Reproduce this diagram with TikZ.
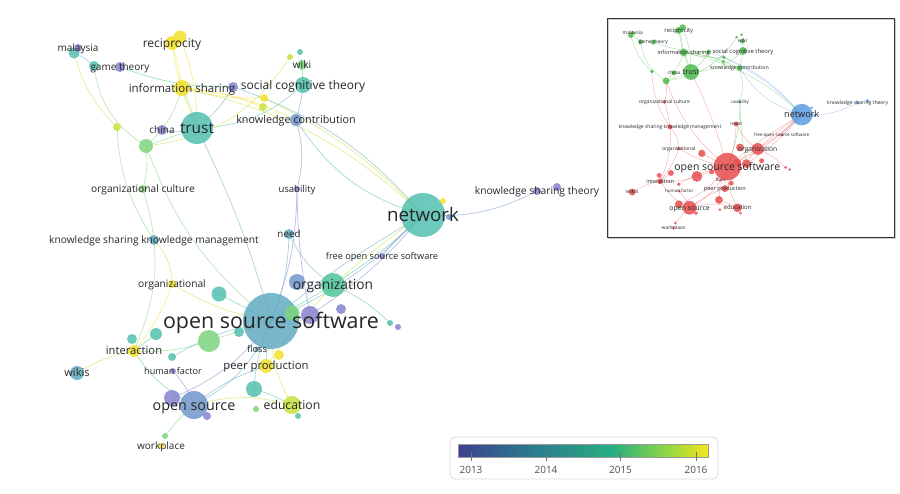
\documentclass[tikz,border=0pt]{standalone}
\usepackage{fontspec}
\setmainfont{Open Sans}
\usetikzlibrary{backgrounds}

% overlay colours, by average publication year
\definecolor{y13}{HTML}{8583CF}
\definecolor{y135}{HTML}{7197CC}
\definecolor{y14}{HTML}{62ABC2}
\definecolor{y145}{HTML}{52BFAF}
\definecolor{y15}{HTML}{4EC69B}
\definecolor{y155}{HTML}{7FD47E}
\definecolor{y158}{HTML}{C9E13C}
\definecolor{y16}{HTML}{F3E12A}
% cluster colours of the small map
\definecolor{clred}{HTML}{E84E50}
\definecolor{clgreen}{HTML}{4DBB4D}
\definecolor{clblue}{HTML}{5A9EE0}
% colour bar
\definecolor{v0}{HTML}{3D4190}
\definecolor{v1}{HTML}{2C7C8E}
\definecolor{v2}{HTML}{27AE80}
\definecolor{v3}{HTML}{93D742}
\definecolor{v4}{HTML}{F5E61E}
\pgfdeclarehorizontalshading{viridisbar}{100bp}{color(0bp)=(v0); color(25bp)=(v0); color(40bp)=(v1); color(56bp)=(v2); color(67bp)=(v3); color(75bp)=(v4); color(100bp)=(v4)}

\tikzset{
  kwdot/.style={circle, inner sep=0pt, minimum size=#1, fill opacity=0.85, draw=none},
  kwlabel/.style={font=\fontsize{#1}{#1}\selectfont, text=black!85, inner sep=0pt,
    text height=0.9*#1pt, text depth=0.2*#1pt},
  link/.style={line width=0.7pt, draw opacity=0.55},
}

\newif\ifclusterview
% keyword: name, x, y, diameter, year colour, cluster colour
\newcommand{\kw}[6]{%
  \ifclusterview\colorlet{kwfill}{#6}\else\colorlet{kwfill}{#5}\fi
  \node[kwdot=#4pt, fill=kwfill] (#1) at (#2,#3) {};}
% link: from, to, year colour, cluster colour, bend
\newcommand{\lk}[5]{%
  \ifclusterview\colorlet{lkcol}{#4}\else\colorlet{lkcol}{#3}\fi
  \draw[link, lkcol] (#1.center) to[bend left=#5] (#2.center);}
% label: keyword, font size, text
\newcommand{\kwlab}[3]{\node[kwlabel=#2] (#1-t) at (#1) {#3};}

\newcommand{\kwnetwork}{%
  % keywords, largest first
  \kw{oss}{271}{321}{56}{y14}{clred}
  \kw{network}{423}{215}{44}{y145}{clblue}
  \kw{trust}{197}{128}{32}{y145}{clgreen}
  \kw{opensrc}{194}{405}{28}{y135}{clred}
  \kw{organization}{333}{285}{24}{y15}{clred}
  \kw{g210}{209}{341}{22}{y155}{clred}
  \kw{edu}{292}{405}{18}{y158}{clred}
  \kw{g292}{292}{313}{15}{y155}{clred}
  \kw{p313}{310}{315}{18}{y13}{clred}
  \kw{b297}{297}{282}{16}{y135}{clred}
  \kw{p171}{172}{398}{16}{y13}{clred}
  \kw{t254}{254}{389}{16}{y145}{clred}
  \kw{sct}{303}{85}{16}{y145}{clgreen}
  \kw{infosharing}{182}{88}{16}{y16}{clgreen}
  \kw{recipA}{172}{43}{14}{y16}{clgreen}
  \kw{recipB}{180}{37}{13}{y16}{clgreen}
  \kw{peerprod}{266}{366}{14}{y16}{clred}
  \kw{t220}{219}{294}{15}{y145}{clred}
  \kw{g146}{146}{146}{14}{y155}{clgreen}
  \kw{wikis}{77}{373}{14}{y14}{clred}
  \kw{interaction}{134}{351}{12}{y16}{clred}
  \kw{t156}{156}{334}{12}{y145}{clred}
  \kw{t132}{132}{339}{10}{y145}{clred}
  \kw{kcontr}{296}{120}{12}{y135}{clgreen}
  \kw{malaysiaB}{74}{53}{11}{y145}{clgreen}
  \kw{gametheoryB}{94}{66}{10}{y145}{clgreen}
  \kw{gametheory}{120}{67}{10}{y13}{clgreen}
  \kw{china}{162}{130}{10}{y13}{clgreen}
  \kw{p232}{233}{87}{10}{y13}{clgreen}
  \kw{p341}{341}{309}{10}{y13}{clred}
  \kw{t239}{239}{332}{10}{y145}{clred}
  \kw{y279}{279}{355}{10}{y16}{clred}
  \kw{kskm}{154}{240}{10}{y14}{clred}
  \kw{need}{289}{234}{10}{y14}{clred}
  \kw{wiki}{302}{65}{10}{y155}{clgreen}
  \kw{malaysia}{78}{48}{8}{y13}{clgreen}
  \kw{orgcult}{143}{189}{8}{y155}{clred}
  \kw{organizational}{172}{284}{8}{y16}{clred}
  \kw{t172}{172}{357}{8}{y145}{clred}
  \kw{p207}{207}{416}{8}{y13}{clred}
  \kw{y264}{264}{98}{8}{y16}{clgreen}
  \kw{y263}{263}{107}{8}{y158}{clgreen}
  \kw{p117}{117}{127}{8}{y158}{clgreen}
  \kw{kstA}{537}{191}{8}{y13}{clblue}
  \kw{kstB}{557}{187}{8}{y13}{clblue}
  \kw{usability}{297}{189}{6}{y13}{clgreen}
  \kw{foss}{382}{256}{6}{y13}{clred}
  \kw{humanf}{173}{371}{6}{y13}{clred}
  \kw{wikiB}{290}{57}{6}{y158}{clgreen}
  \kw{wikiC}{300}{52}{6}{y145}{clgreen}
  \kw{n442}{443}{201}{6}{y16}{clblue}
  \kw{n445}{449}{217}{6}{y135}{clblue}
  \kw{t390}{390}{323}{6}{y145}{clred}
  \kw{p397}{398}{327}{6}{y13}{clred}
  \kw{g256}{256}{409}{6}{y155}{clred}
  \kw{t298}{298}{416}{6}{y145}{clred}
  \kw{workplace}{161}{446}{6}{y16}{clred}
  \kw{workplaceB}{165}{436}{6}{y155}{clred}
  \kw{floss}{257}{349}{5}{y14}{clred}
  % links, behind the keywords
  \begin{scope}[on background layer]
    \lk{malaysiaB}{gametheoryB}{y145}{clgreen}{10}
    \lk{gametheoryB}{g146}{y155}{clgreen}{-25}
    \lk{malaysiaB}{p117}{y158}{clgreen}{-15}
    \lk{gametheory}{p232}{y15}{clgreen}{-10}
    \lk{recipA}{trust}{y16}{clgreen}{-8}
    \lk{recipB}{trust}{y16}{clgreen}{10}
    \lk{recipA}{infosharing}{y16}{clgreen}{5}
    \lk{infosharing}{trust}{y155}{clgreen}{5}
    \lk{infosharing}{y264}{y16}{clgreen}{-8}
    \lk{infosharing}{y263}{y16}{clgreen}{8}
    \lk{infosharing}{kcontr}{y16}{clgreen}{10}
    \lk{infosharing}{network}{y158}{clgreen}{15}
    \lk{infosharing}{g146}{y155}{clgreen}{15}
    \lk{trust}{sct}{y145}{clgreen}{-20}
    \lk{g146}{wikiB}{y158}{clgreen}{-25}
    \lk{trust}{china}{y13}{clgreen}{15}
    \lk{trust}{p232}{y14}{clgreen}{-10}
    \lk{trust}{oss}{y14}{clred}{5}
    \lk{trust}{g146}{y155}{clgreen}{0}
    \lk{g146}{orgcult}{y155}{clred}{10}
    \lk{g146}{oss}{y155}{clred}{-15}
    \lk{p117}{kskm}{y155}{clred}{-15}
    \lk{sct}{kcontr}{y135}{clgreen}{5}
    \lk{sct}{wiki}{y15}{clgreen}{0}
    \lk{kcontr}{usability}{y13}{clgreen}{15}
    \lk{usability}{oss}{y13}{clgreen}{10}
    \lk{usability}{p313}{y13}{clgreen}{-5}
    \lk{kcontr}{network}{y145}{clblue}{-20}
    \lk{p232}{network}{y14}{clblue}{15}
    \lk{y264}{network}{y158}{clblue}{10}
    \lk{network}{oss}{y14}{clred}{10}
    \lk{network}{oss}{y14}{clred}{-5}
    \lk{network}{organization}{y15}{clred}{5}
    \lk{network}{p313}{y13}{clred}{8}
    \lk{network}{kstA}{y135}{clblue}{-15}
    \lk{network}{peerprod}{y158}{clred}{-10}
    \lk{foss}{network}{y13}{clblue}{5}
    \lk{need}{oss}{y14}{clred}{10}
    \lk{need}{organization}{y14}{clred}{-15}
    \lk{kskm}{organizational}{y158}{clred}{20}
    \lk{orgcult}{interaction}{y155}{clred}{20}
    \lk{organizational}{interaction}{y16}{clred}{10}
    \lk{organizational}{oss}{y158}{clred}{-10}
    \lk{t220}{oss}{y145}{clred}{0}
    \lk{interaction}{wikis}{y158}{clred}{-10}
    \lk{interaction}{t156}{y15}{clred}{0}
    \lk{interaction}{opensrc}{y15}{clred}{-15}
    \lk{opensrc}{oss}{y14}{clred}{-20}
    \lk{opensrc}{peerprod}{y14}{clred}{10}
    \lk{opensrc}{edu}{y158}{clred}{15}
    \lk{opensrc}{workplaceB}{y155}{clred}{-5}
    \lk{edu}{oss}{y158}{clred}{15}
    \lk{t254}{oss}{y145}{clred}{10}
    \lk{t254}{edu}{y145}{clred}{5}
    \lk{peerprod}{oss}{y15}{clred}{5}
    \lk{g210}{oss}{y155}{clred}{0}
    \lk{g210}{interaction}{y155}{clred}{10}
    \lk{t390}{organization}{y145}{clred}{-10}
    \lk{humanf}{opensrc}{y13}{clred}{10}
    \lk{organization}{oss}{y15}{clred}{0}
    \lk{p171}{oss}{y13}{clred}{-15}
    \lk{t172}{oss}{y145}{clred}{10}
  \end{scope}
  % labels on top
  \kwlab{malaysia}{10}{malaysia}
  \kwlab{gametheory}{10}{game theory}
  \kwlab{wiki}{10.3}{wiki}
  \kwlab{china}{10}{china}
  \kwlab{usability}{9.5}{usability}
  \kwlab{need}{9.8}{need}
  \kwlab{floss}{9.3}{floss}
  \kwlab{humanf}{9.1}{human factor}
  \kwlab{workplace}{10}{workplace}
  \kwlab{organizational}{10.2}{organizational}
  \kwlab{orgcult}{10.2}{organizational culture}
  \kwlab{kskm}{10.2}{knowledge sharing knowledge management}
  \kwlab{foss}{9.2}{free open source software}
  \kwlab{kstA}{10.3}{knowledge sharing theory}
  \kwlab{kcontr}{10.8}{knowledge contribution}
  \kwlab{wikis}{11}{wikis}
  \kwlab{interaction}{11.2}{interaction}
  \kwlab{peerprod}{11.3}{peer production}
  \kwlab{infosharing}{11.5}{information sharing}
  \kwlab{recipA}{12}{reciprocity}
  \kwlab{sct}{12}{social cognitive theory}
  \kwlab{edu}{12.2}{education}
  \kwlab{organization}{13.8}{organization}
  \kwlab{opensrc}{14.3}{open source}
  \kwlab{trust}{15.4}{trust}
  \kwlab{network}{18.7}{network}
  \kwlab{oss}{21.4}{open source software}
}

\begin{document}
\begin{tikzpicture}[x=1pt, y=-1pt]
  \useasboundingbox (0,0) rectangle (900,493);
  % overlay map
  \kwnetwork
  % small cluster map
  \draw[black!20, line width=1pt] (608,19) rectangle (895,238);
  \draw[black!80, line width=1pt] (607,18) rectangle (894,237);
  \begin{scope}[shift={(594.5,9.3)}, scale=0.49, transform shape, name prefix=i-,
      link/.append style={line width=0.35pt}]
    \clusterviewtrue
    \kwnetwork
  \end{scope}
  % colour bar
  \draw[black!15, line width=0.8pt, rounded corners=6pt] (450,437) rectangle (718,479);
  \shade[shading=viridisbar] (458,444.5) rectangle (708,457.5);
  \draw[black!40, line width=0.6pt] (458,444.5) rectangle (708,457.5);
  \foreach \yr/\x in {2013/471, 2014/546, 2015/620.5, 2016/696} {
    \draw[black!55, line width=0.6pt] (\x,452) -- (\x,461);
    \node[font=\fontsize{10}{10}\selectfont, text=black!70, inner sep=0pt] (yr\yr) at (\x,469.5) {\yr};
  }
\end{tikzpicture}
\end{document}
